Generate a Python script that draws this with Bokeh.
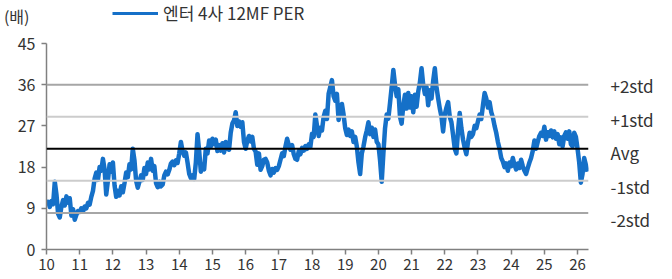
from bokeh.plotting import figure
from bokeh.layouts import column
from bokeh.models import (Range1d, FixedTicker, Span, Legend, LegendItem,
                          ColumnDataSource, LinearAxis)
from bokeh.embed import file_html
from bokeh.resources import INLINE

FONT = "Noto Sans CJK KR"

# ---- data -------------------------------------------------------------
START_YEAR = 10.0      # 2010
STEP = 0.05            # years between observations

per_10 = [9.6, 10.4, 9.3, 10.6, 9.9, 14.8, 12.0, 7.8, 7.0, 9.4, 10.8, 9.6, 11.6, 10.2, 11.2, 7.4, 8.8, 6.5, 7.6, 8.4]
per_11 = [8.2, 9.0, 8.3, 9.4, 9.0, 10.2, 9.8, 11.5, 12.8, 15.5, 16.8, 15.2, 18.0, 17.2, 19.8, 17.5, 12.0, 15.0, 18.6, 17.0]
per_12 = [19.0, 14.0, 11.5, 12.8, 11.8, 13.8, 12.5, 14.5, 16.8, 15.8, 18.6, 17.5, 22.0, 19.5, 15.0, 13.5, 14.8, 16.2, 15.2, 17.8]
per_13 = [16.5, 19.0, 17.5, 19.8, 17.2, 18.2, 14.5, 13.6, 14.8, 13.8, 14.2, 16.2, 17.0, 16.4, 17.4, 18.8, 19.2, 18.4, 19.5, 18.9]
per_14 = [21.0, 23.5, 21.5, 20.5, 21.2, 19.0, 16.5, 15.6, 16.2, 15.4, 19.0, 25.2, 21.5, 17.0, 18.6, 17.5, 22.0, 21.0, 23.8, 22.5]
per_15 = [24.2, 23.0, 24.0, 21.5, 22.8, 21.6, 23.2, 21.2, 23.5, 22.0, 21.8, 25.5, 27.5, 28.2, 30.0, 27.0, 28.0, 26.8, 27.8, 23.5]
per_16 = [22.0, 23.8, 24.8, 23.6, 24.6, 22.0, 21.4, 18.5, 21.0, 17.4, 18.2, 19.6, 19.8, 19.0, 17.2, 16.2, 17.6, 16.8, 17.8, 17.4]
per_17 = [18.2, 19.6, 21.0, 20.4, 22.5, 24.2, 22.8, 21.8, 22.8, 20.8, 19.8, 19.6, 21.5, 20.8, 22.2, 21.6, 22.6, 22.0, 23.0, 22.4]
per_18 = [25.3, 24.6, 29.5, 27.0, 24.8, 26.6, 26.0, 29.0, 30.3, 28.5, 34.0, 35.5, 37.0, 33.5, 32.5, 34.0, 28.3, 30.0, 31.8, 29.5]
per_19 = [26.5, 25.0, 26.2, 24.8, 25.8, 23.5, 24.6, 22.5, 19.0, 16.5, 21.0, 22.5, 24.5, 26.0, 27.8, 25.2, 26.6, 24.6, 26.2, 23.5]
per_20 = [23.0, 19.5, 14.8, 21.0, 26.5, 29.5, 28.6, 32.0, 35.5, 39.2, 36.0, 33.5, 35.0, 29.0, 27.5, 31.5, 33.8, 30.8, 34.2, 31.0]
per_21 = [33.5, 30.0, 33.8, 31.2, 34.5, 36.5, 39.6, 36.0, 34.0, 35.5, 31.5, 34.8, 33.0, 36.8, 39.6, 35.5, 33.0, 30.8, 29.0, 25.8]
per_22 = [29.5, 31.0, 32.2, 29.0, 27.8, 25.0, 22.0, 21.0, 26.0, 29.8, 26.5, 24.0, 22.2, 20.8, 23.5, 25.5, 24.6, 25.2, 27.0, 26.5]
per_23 = [28.0, 29.5, 28.5, 31.5, 34.2, 33.0, 31.0, 32.2, 30.0, 28.8, 27.0, 25.5, 23.5, 22.0, 20.0, 19.2, 18.0, 18.8, 17.2, 19.0]
per_24 = [18.2, 20.0, 18.5, 17.5, 18.8, 17.8, 19.6, 18.2, 17.2, 16.5, 17.8, 19.0, 20.0, 21.5, 23.8, 22.0, 23.5, 24.8, 25.5, 24.8]
per_25 = [26.8, 24.0, 25.6, 24.8, 26.0, 24.5, 25.8, 24.2, 25.2, 23.0, 24.5, 22.5, 24.8, 25.6, 24.2, 25.8, 23.0, 22.5, 25.5, 24.6]
per_26 = [22.0, 19.0, 14.6, 16.5, 20.0, 18.5, 17.0]

PER = (per_10 + per_11 + per_12 + per_13 + per_14 + per_15 + per_16 + per_17 +
       per_18 + per_19 + per_20 + per_21 + per_22 + per_23 + per_24 + per_25 + per_26)
YEARS = [START_YEAR + i * STEP for i in range(len(PER))]

AVG = 22.0
STD = 7.0
BAND_LABELS = ["+2std", "+1std", "Avg", "-1std", "-2std"]
BAND_MULT = [2, 1, 0, -1, -2]
BAND_COLORS = ["#a6a6a6", "#cccccc", "#000000", "#cccccc", "#a6a6a6"]
BAND_VALUES = [int(AVG + m * STD) for m in BAND_MULT]

X_TICKS = list(range(10, 27))
Y_TICKS = [0, 9, 18, 27, 36, 45]
SERIES_NAME = "엔터 4사 12MF PER"
UNIT = "(배)"
LINE_COLOR = "#1570c8"
TEXT_COLOR = "#333333"

W = 672
BL, BR = 46, 84
X_RANGE = (10, 26.33)

# ---- header strip (unit + legend), frame aligned with the chart -------
HEAD_H = 30
head = figure(width=W, height=HEAD_H, output_backend="svg", toolbar_location=None,
              x_range=Range1d(*X_RANGE), y_range=Range1d(0, 1),
              x_axis_type=None,
              min_border_left=BL, min_border_right=BR,
              min_border_top=0, min_border_bottom=0)
head.outline_line_color = None
head.grid.visible = False
hy = head.yaxis[0]
hy.ticker = FixedTicker(ticks=[0.5])
hy.major_label_overrides = {0.5: UNIT}
hy.axis_line_color = None
hy.major_tick_line_color = None
hy.minor_tick_line_color = None
hy.major_label_standoff = 11
hy.major_label_text_font = FONT
hy.major_label_text_font_size = "16px"
hy.major_label_text_color = TEXT_COLOR
# same series, far outside this strip's y range: only its legend entry shows
hr = head.line(YEARS, [v + 100 for v in PER], line_color=LINE_COLOR, line_width=3)
legend = Legend(items=[LegendItem(label=SERIES_NAME, renderers=[hr])],
                location=(66, 5), orientation="horizontal",
                glyph_width=46, glyph_height=20, label_height=20,
                padding=0, margin=0, spacing=0,
                label_standoff=5, border_line_color=None,
                background_fill_alpha=0,
                label_text_font=FONT, label_text_font_size="17px",
                label_text_color=TEXT_COLOR)
head.add_layout(legend)

# ---- main chart -------------------------------------------------------
H = 249
BT, BB = 13, 30
p = figure(width=W, height=H, output_backend="svg",
           toolbar_location=None, x_range=Range1d(*X_RANGE), y_range=Range1d(0, 45),
           min_border_left=BL, min_border_right=BR, min_border_top=BT,
           min_border_bottom=BB)
p.outline_line_color = None
p.grid.visible = False

for v, c in zip(BAND_VALUES, BAND_COLORS):
    p.add_layout(Span(location=v, dimension="width", line_color=c, line_width=2))

src = ColumnDataSource(dict(x=YEARS, y=PER))
p.line("x", "y", source=src, line_color=LINE_COLOR, line_width=4.5,
       line_join="round")

for ax, ticks, fs in ((p.xaxis[0], X_TICKS, "15px"), (p.yaxis[0], Y_TICKS, "16px")):
    ax.ticker = FixedTicker(ticks=ticks)
    ax.minor_tick_line_color = None
    ax.axis_line_color = "#808080"
    ax.axis_line_width = 1.5
    ax.major_tick_line_color = "#808080"
    ax.major_tick_line_width = 1.5
    ax.major_tick_in = 0
    ax.major_tick_out = 5
    ax.major_label_text_font = FONT
    ax.major_label_text_font_size = fs
    ax.major_label_text_color = TEXT_COLOR
p.xaxis[0].major_label_standoff = 4
p.yaxis[0].major_label_standoff = 6

# band labels on the right: a slightly wider label scale spaces them as in the source
p.extra_y_ranges = {"band": Range1d(1.73, 44.78)}
band_axis = LinearAxis(y_range_name="band",
                       ticker=FixedTicker(ticks=BAND_VALUES),
                       major_label_overrides={v: t for v, t in zip(BAND_VALUES, BAND_LABELS)},
                       axis_line_color=None, major_tick_line_color=None,
                       minor_tick_line_color=None, major_label_standoff=16,
                       major_label_text_font=FONT, major_label_text_font_size="17px",
                       major_label_text_color=TEXT_COLOR)
p.add_layout(band_axis, "right")

layout = column(head, p, spacing=0)
open("out.html", "w").write(file_html(layout, INLINE))
